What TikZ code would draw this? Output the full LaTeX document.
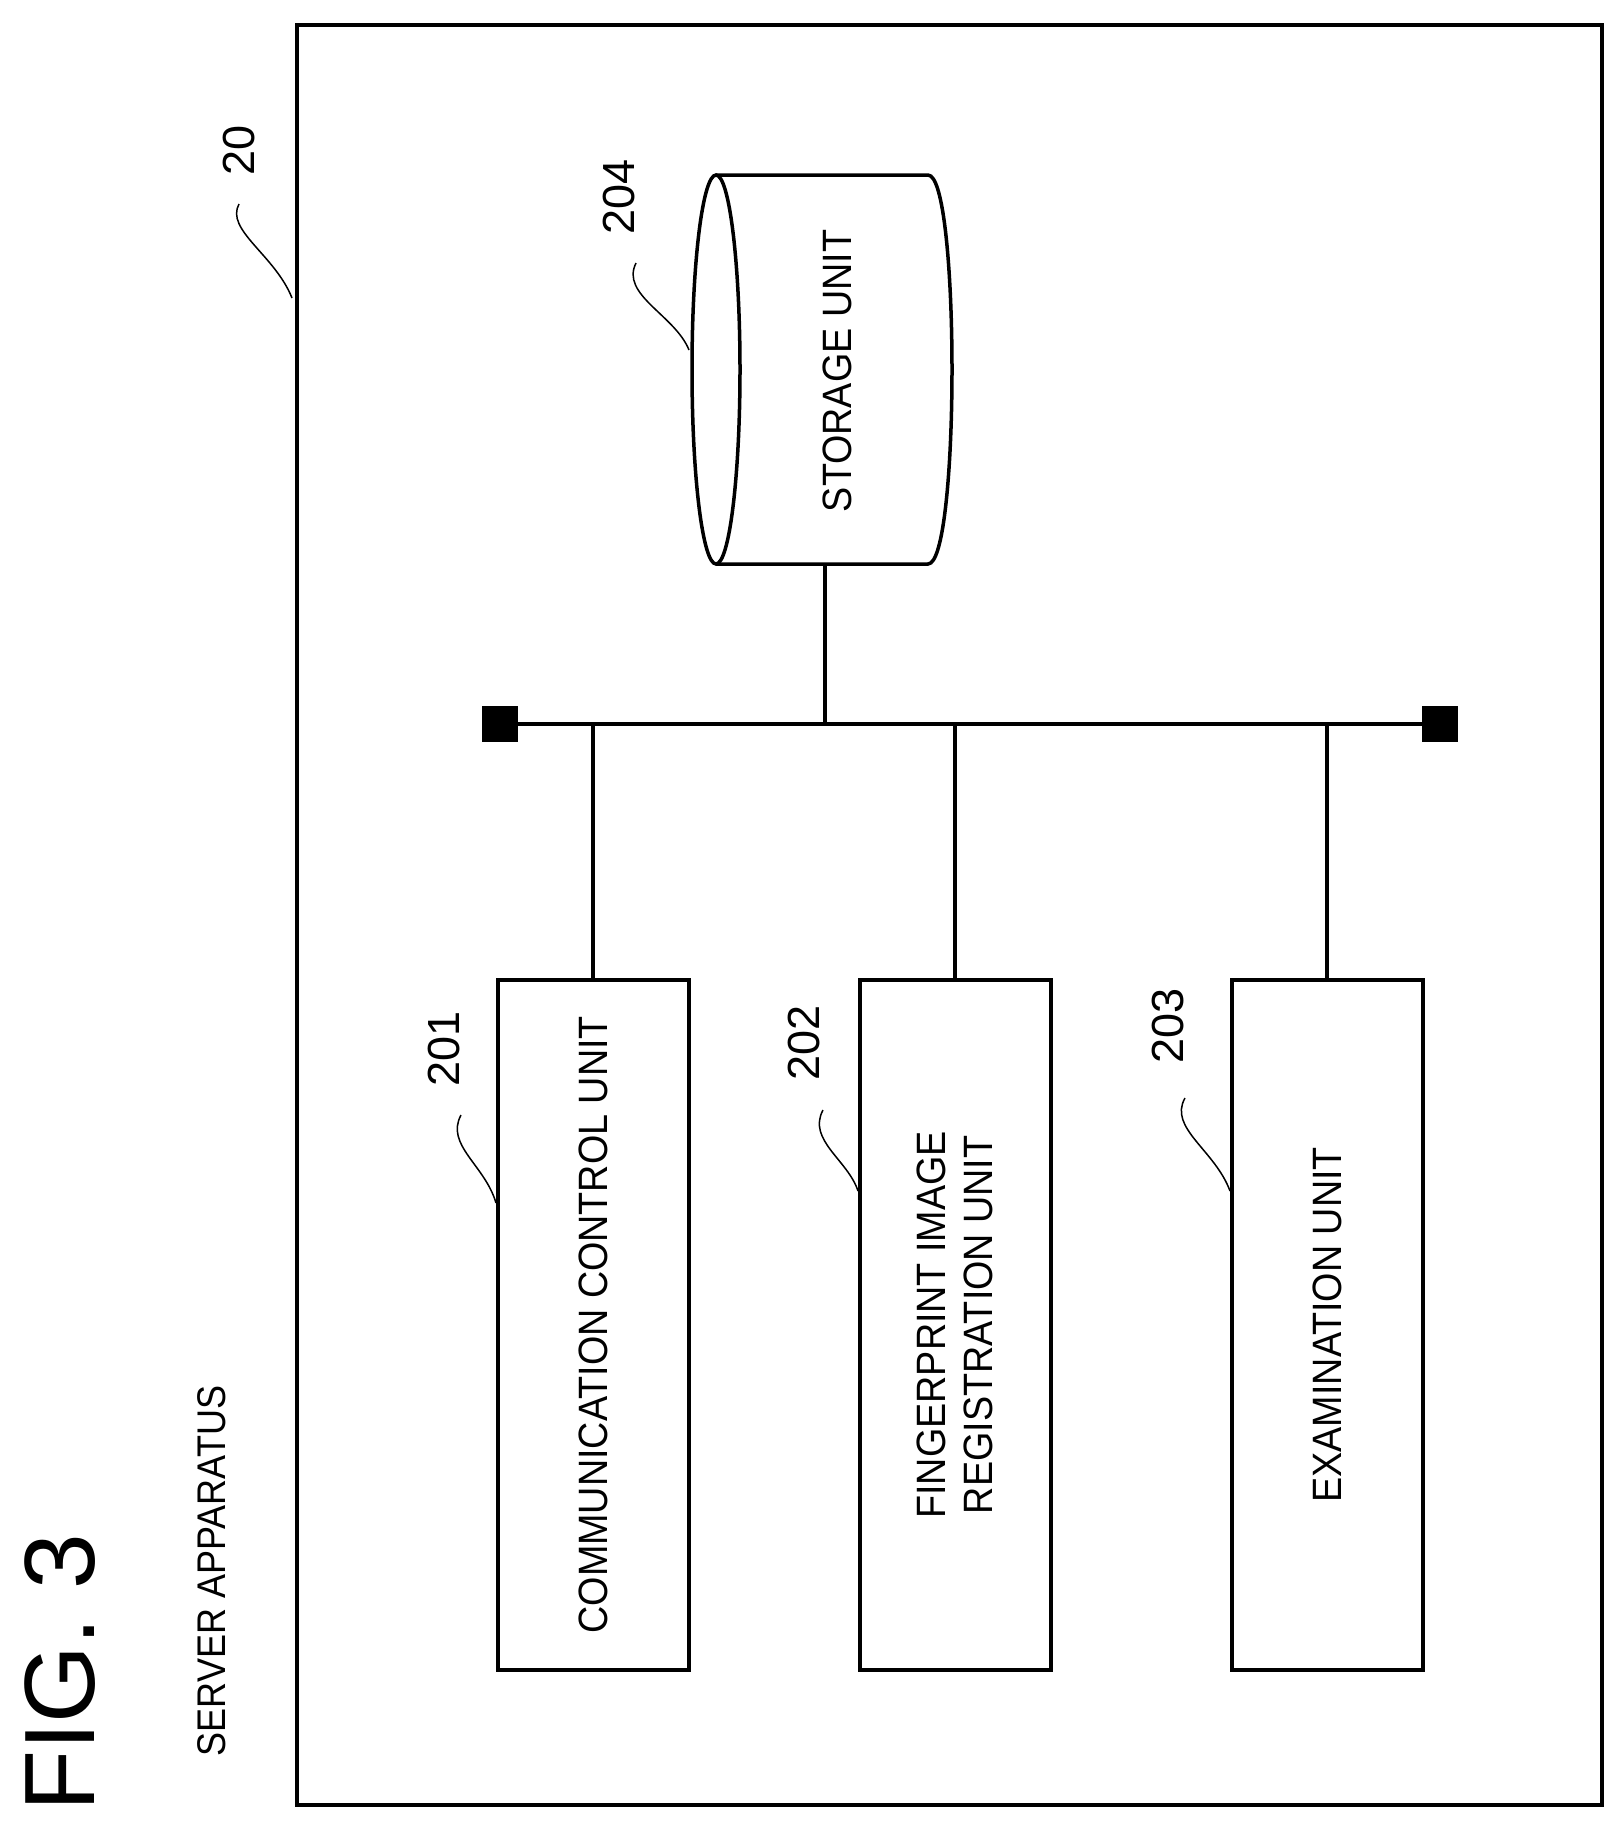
\documentclass[tikz,border=0pt]{standalone}
\usepackage{fontspec}
\setmainfont{Liberation Sans}
\begin{document}
\begin{tikzpicture}[x=1pt,y=-1pt,
 box/.style={draw,line width=3.5pt,minimum width=191pt,minimum height=690pt,anchor=north west,inner sep=0pt},
 txt/.style={rotate=90,font=\fontsize{41}{47}\selectfont,xscale=0.92,align=center},
 num/.style={rotate=90,font=\fontsize{45}{48}\selectfont},
 wire/.style={line width=4pt},
 lead/.style={line width=1.5pt}]
\useasboundingbox (0,0) rectangle (1623,1829);
\node[draw,line width=3.5pt,minimum width=1305pt,minimum height=1780pt,anchor=north west,inner sep=0pt] (outer) at (295,23) {};
\node[rotate=90,font=\fontsize{100}{110}\selectfont] (fig) at (60,1673) {FIG. 3};
\node[rotate=90,font=\fontsize{40}{46}\selectfont,xscale=0.9] (srv) at (212,1571) {SERVER APPARATUS};
\node[box] (b1) at (496,978) {};
\node[box] (b2) at (858,978) {};
\node[box] (b3) at (1230,978) {};
\node[txt] at (b1.center) {COMMUNICATION CONTROL UNIT};
\node[txt] at (b2.center) {FINGERPRINT IMAGE\\REGISTRATION UNIT};
\node[txt] at (b3.center) {EXAMINATION UNIT};
% cylinder
\draw[line width=3.5pt] (716,175) -- (928,175) .. controls (960,175) and (960,564) .. (928,564) -- (716,564);
\draw[line width=3.5pt] (716,369.5) ellipse[x radius=24,y radius=194.5];
\node[txt] (st) at (837,371) {STORAGE UNIT};
\coordinate (stb) at (825,564);
% bus
\coordinate (bl) at (500,724);
\coordinate (br) at (1440,724);
\draw[wire] (bl) -- (br);
\fill (bl) ++(-18,-18) rectangle ++(36,36);
\fill (br) ++(-18,-18) rectangle ++(36,36);
\draw[wire] (stb) -- (825,724);
\draw[wire] (b1.north) -- (b1.north|-bl);
\draw[wire] (b2.north) -- (b2.north|-bl);
\draw[wire] (b3.north) -- (b3.north|-bl);
% labels
\node[num] (n20) at (239,150) {20};
\node[num] (n204) at (619,197) {204};
\node[num] (n201) at (444,1049) {201};
\node[num] (n202) at (804,1043) {202};
\node[num] (n203) at (1168,1026) {203};
\draw[lead] (239,204) .. controls (225,230) and (275,255) .. (292,298);
\draw[lead] (636,263) .. controls (620,295) and (675,315) .. (689,350);
\draw[lead] (461,1115) .. controls (445,1145) and (485,1165) .. (496,1203);
\draw[lead] (823,1110) .. controls (807,1140) and (848,1160) .. (858,1191);
\draw[lead] (1185,1098) .. controls (1168,1128) and (1215,1150) .. (1230,1191);
\end{tikzpicture}
\end{document}
